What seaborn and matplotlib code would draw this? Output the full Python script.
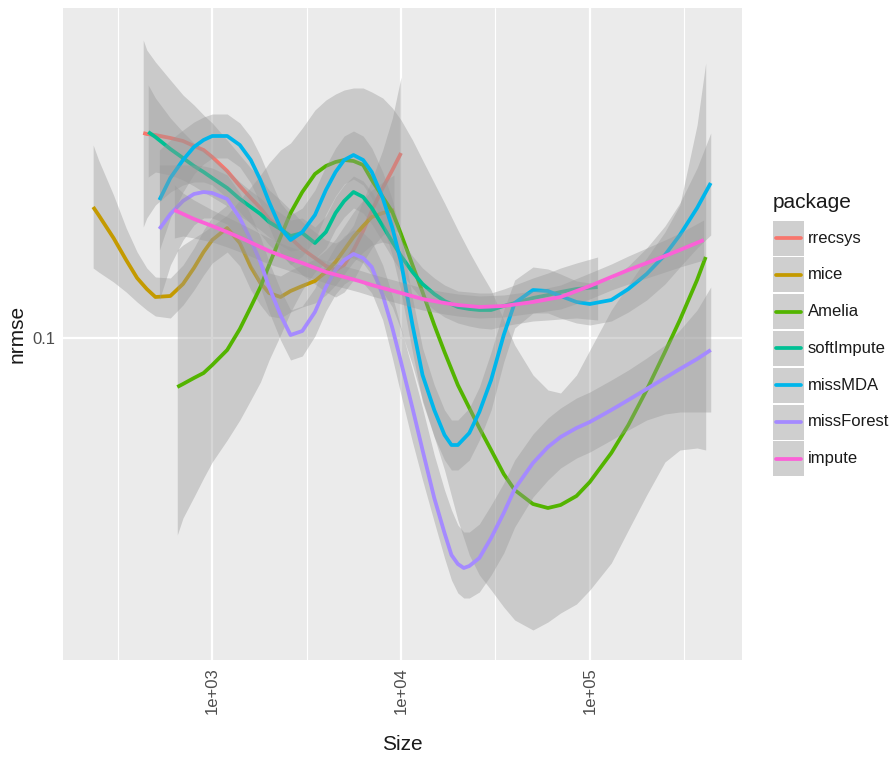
import numpy as np
import pandas as pd
import matplotlib
matplotlib.use("Agg")
import matplotlib.pyplot as plt
import seaborn as sns
from matplotlib.patches import Rectangle
from matplotlib.lines import Line2D

# ---------------- data ----------------
packages = ["rrecsys", "mice", "Amelia", "softImpute", "missMDA", "missForest", "impute"]
colors = ["#F8766D", "#C49A00", "#53B400", "#00C094", "#00B6EB", "#A58AFF", "#FB61D7"]

rrecsys_size = [431, 450, 500, 600, 700, 800, 900, 1000, 1200, 1400, 1600, 1800, 2000, 2300, 2600,
                3000, 3500, 4000, 4500, 5000, 5600, 6300, 7000, 8000, 9000, 10000]
rrecsys_fit = [0.1205, 0.1204, 0.1203, 0.1200, 0.1197, 0.1192, 0.1188, 0.1181, 0.1167, 0.1152, 0.1140,
               0.1130, 0.1119, 0.1109, 0.1100, 0.1089, 0.1080, 0.1072, 0.1068, 0.1073, 0.1088, 0.1107,
               0.1127, 0.1150, 0.1168, 0.1185]
rrecsys_hi = [0.1298, 0.1288, 0.1276, 0.1258, 0.1243, 0.1233, 0.1223, 0.1215, 0.1198, 0.1183, 0.1170,
              0.1160, 0.1148, 0.1138, 0.1128, 0.1116, 0.1106, 0.1098, 0.1095, 0.1100, 0.1113, 0.1138,
              0.1158, 0.1188, 0.1220, 0.1261]
rrecsys_lo = [0.1111, 0.1120, 0.1133, 0.1146, 0.1153, 0.1156, 0.1156, 0.1153, 0.1140, 0.1126, 0.1114,
              0.1104, 0.1093, 0.1083, 0.1074, 0.1063, 0.1054, 0.1046, 0.1041, 0.1046, 0.1058, 0.1076,
              0.1090, 0.1103, 0.1108, 0.1105]

mice_size = [234, 250, 300, 350, 400, 450, 500, 600, 700, 800, 900, 1000, 1200, 1400, 1600, 1800, 2000,
             2300, 2600, 3000, 3500, 4000, 4500, 5000, 5600, 6300, 7000, 8000, 9180]
mice_fit = [0.1131, 0.1123, 0.1100, 0.1078, 0.1060, 0.1049, 0.1041, 0.1042, 0.1054, 0.1070, 0.1086,
            0.1098, 0.1110, 0.1095, 0.1071, 0.1055, 0.1045, 0.1041, 0.1047, 0.1052, 0.1057, 0.1066,
            0.1076, 0.1088, 0.1101, 0.1112, 0.1121, 0.1125, 0.1128]
mice_hi = [0.1193, 0.1178, 0.1143, 0.1110, 0.1086, 0.1070, 0.1061, 0.1060, 0.1073, 0.1090, 0.1108,
           0.1121, 0.1133, 0.1118, 0.1093, 0.1076, 0.1065, 0.1062, 0.1068, 0.1073, 0.1079, 0.1088,
           0.1099, 0.1112, 0.1126, 0.1138, 0.1148, 0.1156, 0.1163]
mice_lo = [0.1070, 0.1066, 0.1056, 0.1046, 0.1036, 0.1028, 0.1022, 0.1020, 0.1033, 0.1048, 0.1063,
           0.1075, 0.1086, 0.1072, 0.1048, 0.1033, 0.1022, 0.1020, 0.1026, 0.1031, 0.1035, 0.1043,
           0.1053, 0.1064, 0.1076, 0.1086, 0.1093, 0.1096, 0.1093]

amelia_size = [653, 700, 800, 900, 1000, 1200, 1400, 1600, 1800, 2000, 2300, 2600, 3000, 3500, 4000,
               4500, 5000, 5600, 6300, 7000, 8000, 9000, 10000, 11500, 13000, 15000, 17000, 20000,
               23000, 26000, 30000, 35000, 40000, 50000, 60000, 70000, 85000, 100000, 130000, 160000,
               200000, 250000, 300000, 370000, 411000]
amelia_fit = [0.0951, 0.0954, 0.0960, 0.0965, 0.0973, 0.0988, 0.1009, 0.1031, 0.1051, 0.1073, 0.1101,
              0.1125, 0.1146, 0.1164, 0.1172, 0.1176, 0.1178, 0.1177, 0.1173, 0.1158, 0.1141, 0.1126,
              0.1104, 0.1073, 0.1046, 0.1013, 0.0986, 0.0953, 0.0930, 0.0910, 0.0888, 0.0864, 0.0848,
              0.0834, 0.0830, 0.0833, 0.0842, 0.0856, 0.0885, 0.0913, 0.0948, 0.0986, 0.1018, 0.1058,
              0.1081]
amelia_hi = [0.1088, 0.1093, 0.1100, 0.1106, 0.1112, 0.1123, 0.1138, 0.1151, 0.1163, 0.1175, 0.1188,
             0.1195, 0.1210, 0.1228, 0.1238, 0.1244, 0.1248, 0.1250, 0.1250, 0.1246, 0.1240, 0.1230,
             0.1218, 0.1198, 0.1178, 0.1155, 0.1135, 0.1108, 0.1086, 0.1068, 0.1048, 0.1018, 0.0993,
             0.0963, 0.0948, 0.0945, 0.0963, 0.0988, 0.1028, 0.1053, 0.1080, 0.1106, 0.1133, 0.1213,
             0.1275]
amelia_lo = [0.0803, 0.0820, 0.0841, 0.0860, 0.0876, 0.0898, 0.0918, 0.0938, 0.0956, 0.0978, 0.1003,
             0.1026, 0.1048, 0.1066, 0.1076, 0.1080, 0.1081, 0.1080, 0.1075, 0.1063, 0.1046, 0.1031,
             0.1008, 0.0973, 0.0938, 0.0901, 0.0868, 0.0818, 0.0783, 0.0763, 0.0748, 0.0731, 0.0718,
             0.0708, 0.0716, 0.0725, 0.0734, 0.0748, 0.0775, 0.0808, 0.0843, 0.0876, 0.0888, 0.0890,
             0.0888]

soft_size = [458, 500, 600, 700, 800, 900, 1000, 1200, 1400, 1600, 1800, 2000, 2300, 2600, 3000, 3500,
             4000, 4500, 5000, 5600, 6300, 7000, 8000, 9000, 10000, 11500, 13000, 15000, 17000, 20000,
             23000, 26000, 30000, 35000, 40000, 50000, 60000, 70000, 85000, 110000]
soft_fit = [0.1206, 0.1201, 0.1189, 0.1180, 0.1172, 0.1166, 0.1160, 0.1150, 0.1139, 0.1131, 0.1124,
            0.1116, 0.1109, 0.1102, 0.1105, 0.1095, 0.1106, 0.1125, 0.1137, 0.1146, 0.1141, 0.1130,
            0.1112, 0.1096, 0.1082, 0.1066, 0.1054, 0.1044, 0.1037, 0.1031, 0.1029, 0.1028, 0.1028,
            0.1032, 0.1035, 0.1040, 0.1043, 0.1046, 0.1049, 0.1051]
soft_hi = [0.1253, 0.1240, 0.1220, 0.1206, 0.1195, 0.1188, 0.1180, 0.1168, 0.1156, 0.1147, 0.1140,
           0.1132, 0.1125, 0.1118, 0.1120, 0.1111, 0.1122, 0.1141, 0.1153, 0.1162, 0.1157, 0.1146,
           0.1128, 0.1112, 0.1098, 0.1082, 0.1070, 0.1060, 0.1053, 0.1047, 0.1046, 0.1045, 0.1045,
           0.1049, 0.1053, 0.1060, 0.1065, 0.1070, 0.1075, 0.1081]
soft_lo = [0.1161, 0.1166, 0.1163, 0.1158, 0.1152, 0.1146, 0.1141, 0.1132, 0.1122, 0.1115, 0.1108,
           0.1101, 0.1093, 0.1087, 0.1089, 0.1079, 0.1090, 0.1109, 0.1121, 0.1130, 0.1125, 0.1114,
           0.1096, 0.1080, 0.1066, 0.1050, 0.1038, 0.1028, 0.1021, 0.1015, 0.1012, 0.1010, 0.1009,
           0.1012, 0.1014, 0.1017, 0.1018, 0.1019, 0.1020, 0.1018]

mda_size = [525, 600, 700, 800, 900, 1000, 1200, 1400, 1600, 1800, 2000, 2300, 2600, 3000, 3500, 4000,
            4500, 5000, 5600, 6300, 7000, 8000, 9000, 10000, 11500, 13000, 15000, 17000, 18500, 20000,
            23000, 26000, 30000, 35000, 40000, 50000, 60000, 70000, 85000, 100000, 130000, 160000,
            200000, 250000, 300000, 370000, 437000]
mda_fit = [0.1138, 0.1160, 0.1178, 0.1191, 0.1198, 0.1202, 0.1202, 0.1193, 0.1178, 0.1158, 0.1136,
           0.1110, 0.1098, 0.1106, 0.1123, 0.1148, 0.1166, 0.1178, 0.1183, 0.1178, 0.1166, 0.1140,
           0.1110, 0.1076, 0.1013, 0.0963, 0.0928, 0.0903, 0.0893, 0.0893, 0.0905, 0.0926, 0.0958,
           0.1003, 0.1035, 0.1048, 0.1047, 0.1042, 0.1036, 0.1034, 0.1038, 0.1049, 0.1064, 0.1083,
           0.1103, 0.1130, 0.1155]
mda_hi = [0.1188, 0.1198, 0.1208, 0.1216, 0.1221, 0.1224, 0.1224, 0.1215, 0.1201, 0.1182, 0.1161,
          0.1135, 0.1123, 0.1130, 0.1148, 0.1172, 0.1190, 0.1202, 0.1207, 0.1202, 0.1190, 0.1166,
          0.1138, 0.1103, 0.1040, 0.0990, 0.0953, 0.0928, 0.0918, 0.0918, 0.0930, 0.0951, 0.0986,
          0.1028, 0.1058, 0.1071, 0.1069, 0.1064, 0.1057, 0.1055, 0.1059, 0.1072, 0.1090, 0.1112,
          0.1135, 0.1170, 0.1205]
mda_lo = [0.1088, 0.1120, 0.1146, 0.1164, 0.1174, 0.1180, 0.1180, 0.1171, 0.1155, 0.1134, 0.1111,
          0.1085, 0.1073, 0.1082, 0.1098, 0.1124, 0.1142, 0.1154, 0.1159, 0.1153, 0.1140, 0.1114,
          0.1082, 0.1046, 0.0986, 0.0936, 0.0901, 0.0878, 0.0868, 0.0868, 0.0878, 0.0898, 0.0928,
          0.0976, 0.1010, 0.1025, 0.1025, 0.1020, 0.1015, 0.1013, 0.1017, 0.1026, 0.1038, 0.1054,
          0.1071, 0.1090, 0.1103]

forest_size = [525, 600, 700, 800, 900, 1000, 1200, 1400, 1600, 1800, 2000, 2300, 2600, 3000, 3500,
               4000, 4500, 5000, 5600, 6300, 7000, 8000, 9000, 10000, 11500, 13000, 15000, 17000,
               18500, 20000, 21500, 23000, 26000, 30000, 35000, 40000, 50000, 60000, 70000, 85000,
               100000, 130000, 160000, 200000, 250000, 300000, 370000, 437000]
forest_fit = [0.1109, 0.1124, 0.1137, 0.1144, 0.1146, 0.1145, 0.1139, 0.1120, 0.1098, 0.1076, 0.1051,
              0.1023, 0.1003, 0.1007, 0.1026, 0.1051, 0.1068, 0.1078, 0.1084, 0.1080, 0.1071, 0.1043,
              0.1010, 0.0976, 0.0930, 0.0888, 0.0840, 0.0805, 0.0783, 0.0774, 0.0770, 0.0772, 0.0780,
              0.0800, 0.0825, 0.0849, 0.0875, 0.0891, 0.0901, 0.0910, 0.0916, 0.0928, 0.0938, 0.0949,
              0.0960, 0.0969, 0.0979, 0.0988]
forest_hi = [0.1173, 0.1173, 0.1173, 0.1173, 0.1172, 0.1170, 0.1163, 0.1145, 0.1123, 0.1101, 0.1076,
             0.1048, 0.1028, 0.1032, 0.1050, 0.1075, 0.1092, 0.1102, 0.1108, 0.1105, 0.1097, 0.1073,
             0.1042, 0.1010, 0.0968, 0.0930, 0.0883, 0.0848, 0.0828, 0.0813, 0.0806, 0.0806, 0.0814,
             0.0833, 0.0855, 0.0878, 0.0904, 0.0920, 0.0930, 0.0940, 0.0946, 0.0958, 0.0968, 0.0980,
             0.0993, 0.1008, 0.1028, 0.1051]
forest_lo = [0.1038, 0.1073, 0.1098, 0.1113, 0.1120, 0.1120, 0.1114, 0.1095, 0.1073, 0.1050, 0.1026,
             0.0998, 0.0978, 0.0982, 0.1002, 0.1027, 0.1044, 0.1054, 0.1060, 0.1055, 0.1045, 0.1018,
             0.0980, 0.0943, 0.0896, 0.0858, 0.0816, 0.0780, 0.0758, 0.0745, 0.0740, 0.0740, 0.0746,
             0.0763, 0.0785, 0.0811, 0.0841, 0.0858, 0.0870, 0.0880, 0.0886, 0.0898, 0.0908, 0.0918,
             0.0924, 0.0926, 0.0926, 0.0926]

impute_size = [630, 700, 800, 1000, 1200, 1500, 2000, 2500, 3000, 4000, 5000, 6000, 7000, 8000, 10000,
               13000, 17000, 20000, 26000, 35000, 50000, 70000, 100000, 130000, 160000, 200000, 250000,
               300000, 401000]
impute_fit = [0.1128, 0.1124, 0.1119, 0.1112, 0.1106, 0.1098, 0.1087, 0.1080, 0.1075, 0.1066, 0.1061,
              0.1057, 0.1053, 0.1050, 0.1045, 0.1039, 0.1035, 0.1033, 0.1031, 0.1032, 0.1036, 0.1041,
              0.1052, 0.1061, 0.1068, 0.1075, 0.1082, 0.1088, 0.1098]
impute_hi = [0.1153, 0.1145, 0.1138, 0.1128, 0.1121, 0.1112, 0.1100, 0.1092, 0.1087, 0.1077, 0.1072,
             0.1068, 0.1064, 0.1061, 0.1056, 0.1050, 0.1046, 0.1044, 0.1042, 0.1043, 0.1047, 0.1053,
             0.1065, 0.1074, 0.1082, 0.1090, 0.1098, 0.1105, 0.1118]
impute_lo = [0.1100, 0.1102, 0.1100, 0.1096, 0.1091, 0.1084, 0.1074, 0.1068, 0.1063, 0.1055, 0.1050,
             0.1046, 0.1042, 0.1039, 0.1034, 0.1028, 0.1024, 0.1022, 0.1020, 0.1021, 0.1025, 0.1029,
             0.1039, 0.1048, 0.1054, 0.1060, 0.1066, 0.1071, 0.1078]

x_ticks = [1e3, 1e4, 1e5]
x_ticklabels = ["1e+03", "1e+04", "1e+05"]
y_ticks = [0.1]
y_ticklabels = ["0.1"]

series = {
    "rrecsys": (rrecsys_size, rrecsys_fit, rrecsys_lo, rrecsys_hi),
    "mice": (mice_size, mice_fit, mice_lo, mice_hi),
    "Amelia": (amelia_size, amelia_fit, amelia_lo, amelia_hi),
    "softImpute": (soft_size, soft_fit, soft_lo, soft_hi),
    "missMDA": (mda_size, mda_fit, mda_lo, mda_hi),
    "missForest": (forest_size, forest_fit, forest_lo, forest_hi),
    "impute": (impute_size, impute_fit, impute_lo, impute_hi),
}

frames = []
for p in packages:
    s, f, lo, hi = series[p]
    frames.append(pd.DataFrame({"package": p, "Size": s, "nrmse": f, "lo": lo, "hi": hi}))
df = pd.concat(frames, ignore_index=True)

# ---------------- style ----------------
sns.set_theme(style="darkgrid", rc={
    "axes.facecolor": "#EBEBEB",
    "figure.facecolor": "white",
    "grid.color": "white",
    "axes.edgecolor": "#EBEBEB",
})
plt.rcParams["font.family"] = ["Liberation Sans", "DejaVu Sans"]

W, H = 891, 757
fig = plt.figure(figsize=(W / 100, H / 100), dpi=100)
px_l, px_r, px_t, px_b = 63, 742, 8, 660
ax = fig.add_axes([px_l / W, 1 - px_b / H, (px_r - px_l) / W, (px_b - px_t) / H])
ax.set_axisbelow(True)

pal = dict(zip(packages, colors))
for i, p in enumerate(packages):
    sub = df[df["package"] == p]
    ax.fill_between(sub["Size"], sub["lo"], sub["hi"], color="#999999", alpha=0.4,
                    linewidth=0, zorder=2 + 2 * i)
    sns.lineplot(data=sub, x="Size", y="nrmse", color=pal[p], linewidth=2.7, ax=ax,
                 estimator=None, legend=False, zorder=3 + 2 * i,
                 solid_joinstyle="round", solid_capstyle="butt")

ax.set_xscale("log")
ax.set_xlim(162, 640000)
ax.set_ylim(0.0678, 0.1330)

ax.set_xticks(x_ticks)
ax.set_xticklabels(x_ticklabels, rotation=90)
ax.set_xticks([10 ** 2.5, 10 ** 3.5, 10 ** 4.5, 10 ** 5.5], minor=True)
ax.set_yticks(y_ticks)
ax.set_yticklabels(y_ticklabels)
ax.set_yticks([], minor=True)

ax.grid(True, which="major", color="white", linewidth=1.6)
ax.grid(True, which="minor", axis="x", color="white", linewidth=0.8)
ax.tick_params(axis="both", which="major", length=3.5, width=1.0, color="#333333",
               labelsize=12, labelcolor="#4D4D4D", pad=2)
ax.tick_params(axis="both", which="minor", length=0)
for sp in ax.spines.values():
    sp.set_visible(False)
ax.set_xlabel("")
ax.set_ylabel("")

fig.text(402 / W, 1 - 745 / H, "Size", ha="center", va="center", fontsize=15, color="#1A1A1A")
fig.text(17 / W, 1 - 334 / H, "nrmse", ha="center", va="center", rotation=90, fontsize=15,
         color="#1A1A1A")

# ---------------- legend ----------------
fig.text(773 / W, 1 - 202 / H, "package", ha="left", va="center", fontsize=15, color="#1A1A1A")
for i, p in enumerate(packages):
    cy = 238 + i * 36.8
    fig.patches.append(Rectangle((773 / W, 1 - (cy + 17.5) / H), 31 / W, 35 / H,
                                 transform=fig.transFigure, facecolor="#CFCFCF",
                                 edgecolor="none"))
    fig.lines.append(Line2D([776 / W, 801 / W], [1 - cy / H, 1 - cy / H],
                            transform=fig.transFigure, color=pal[p], linewidth=2.7))
    fig.text(808 / W, 1 - cy / H, p, ha="left", va="center", fontsize=12, color="#1A1A1A")

fig.savefig("out.png", dpi=100)
